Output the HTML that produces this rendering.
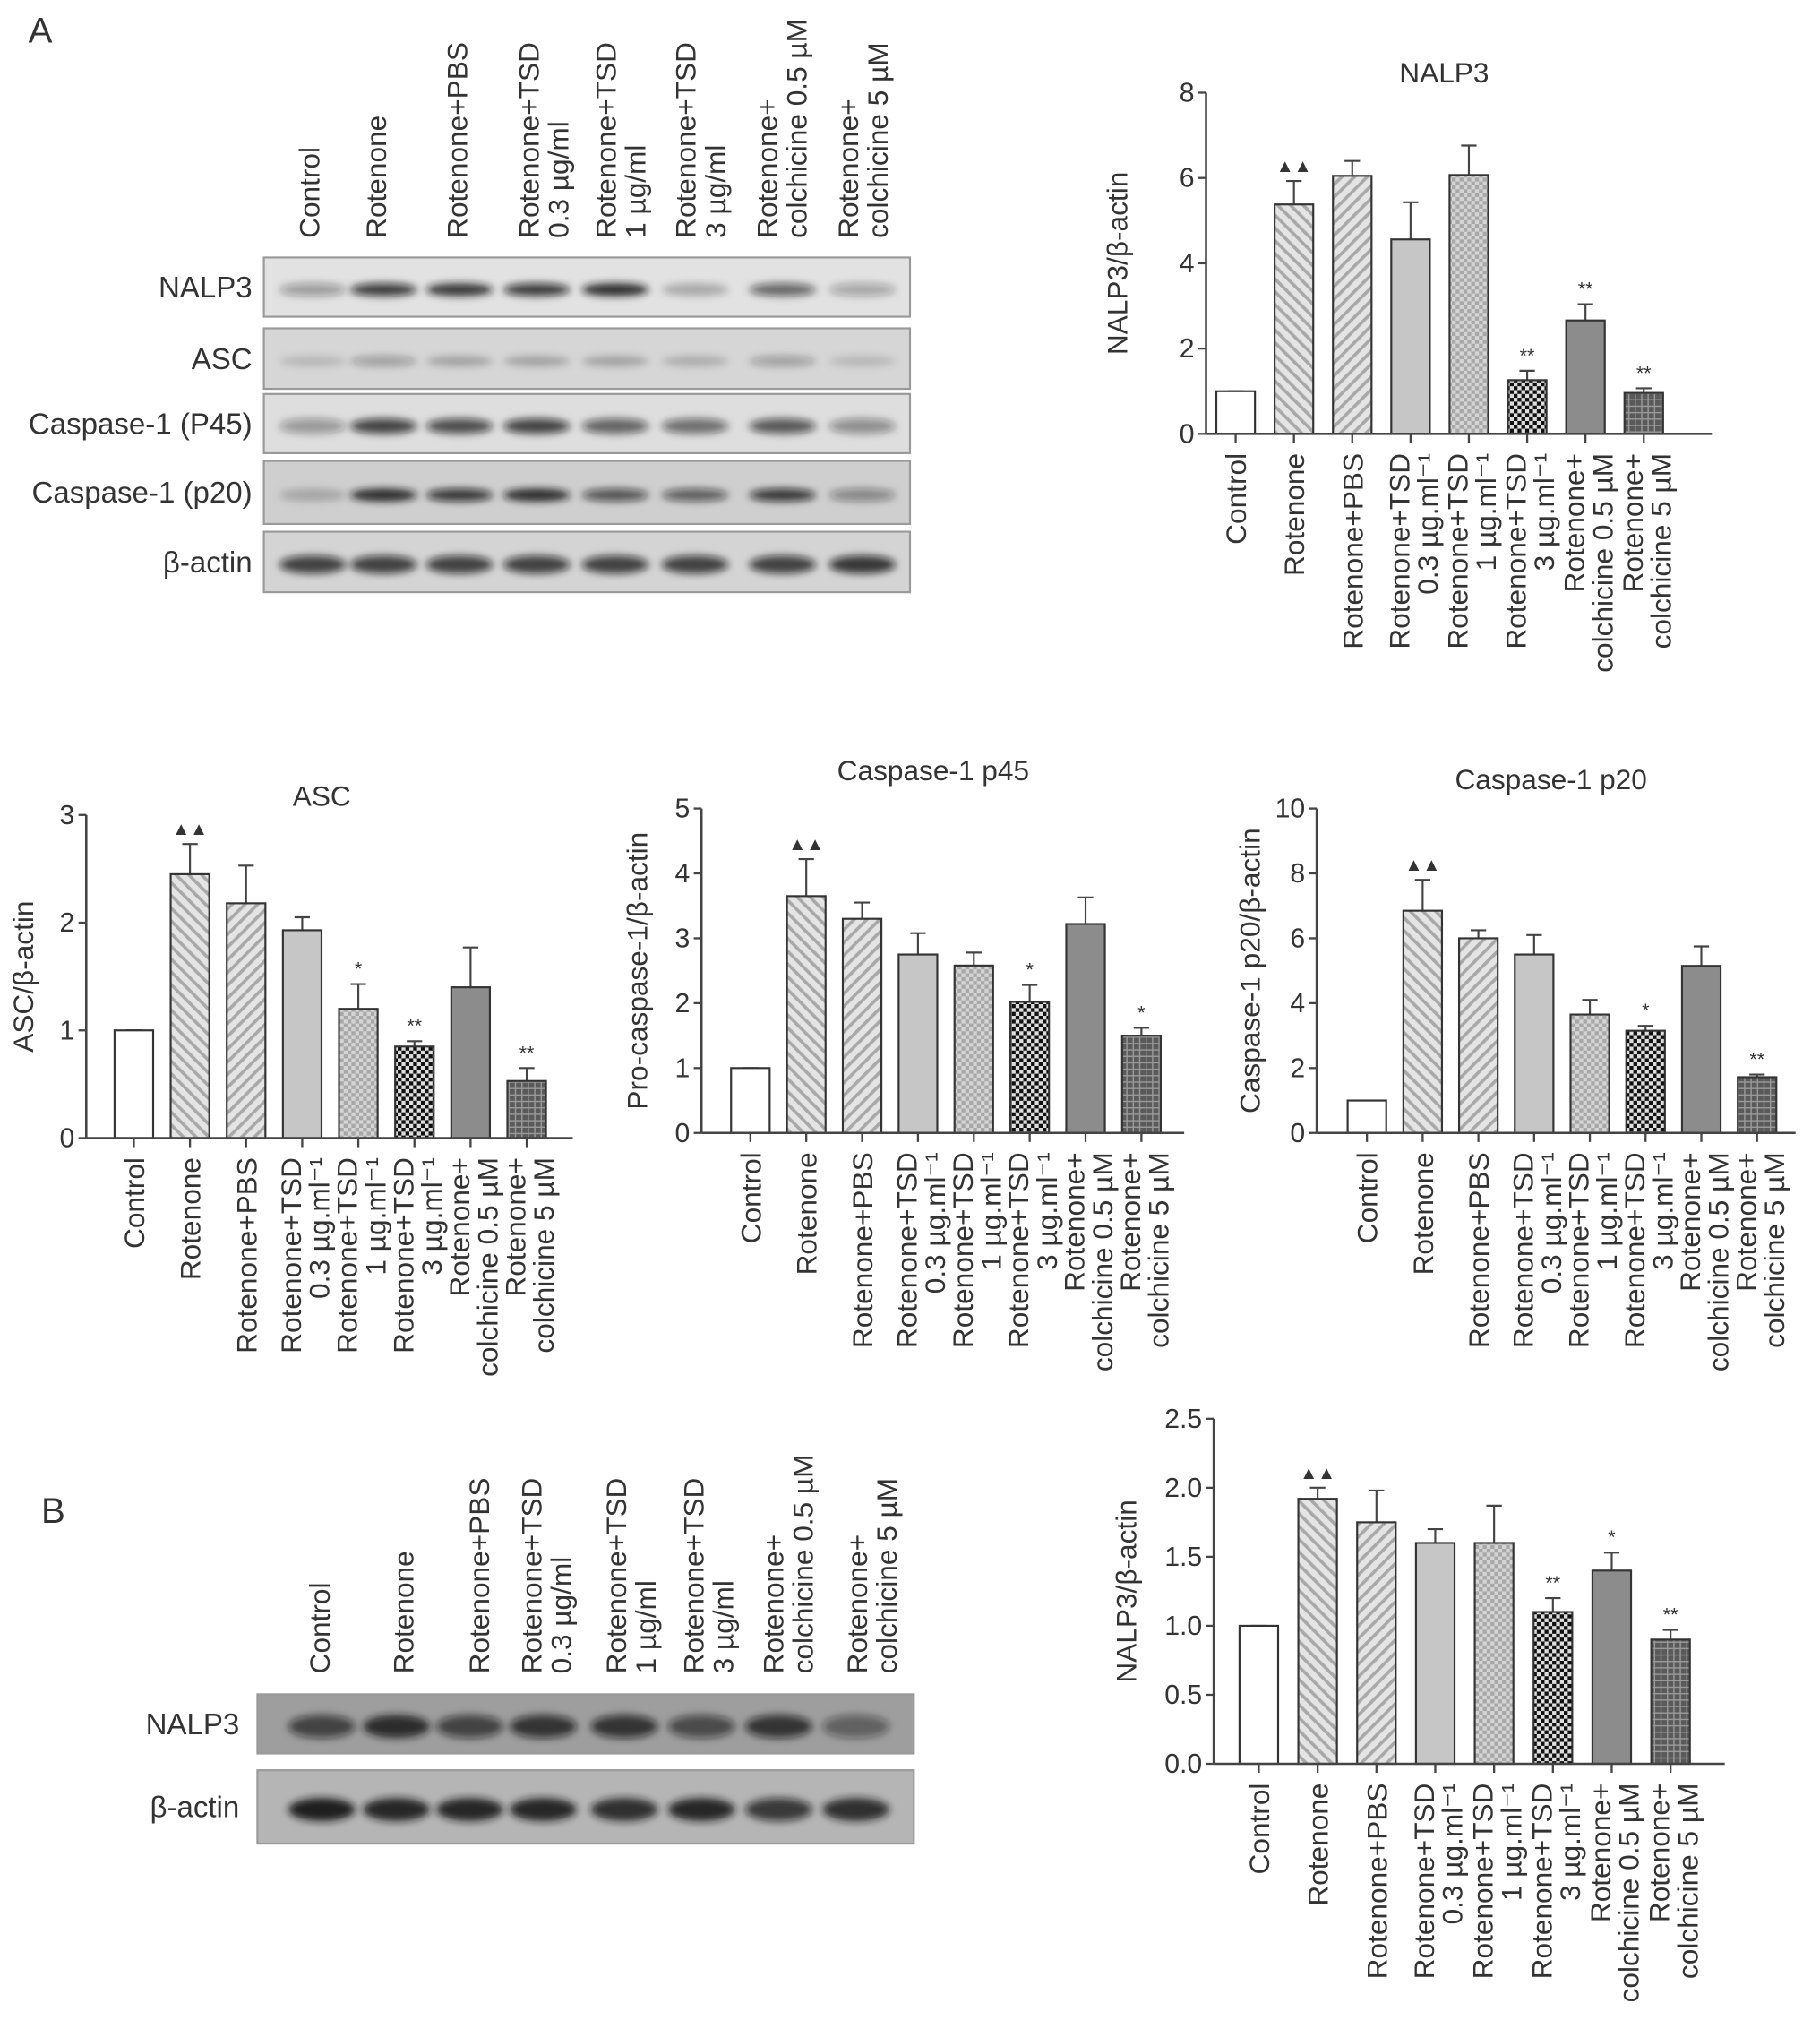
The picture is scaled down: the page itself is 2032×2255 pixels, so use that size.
<!DOCTYPE html>
<html><head><meta charset="utf-8">
<style>
html,body{margin:0;padding:0;background:#fff;}
svg{display:block;font-family:"Liberation Sans",Arial,sans-serif;}
text{fill:#333;}
</style></head>
<body>
<svg id="fig" width="2032" height="2255" viewBox="0 0 1414 1569" preserveAspectRatio="none" xmlns="http://www.w3.org/2000/svg">
<defs>
<pattern id="p-bs" width="7" height="7" patternUnits="userSpaceOnUse" patternTransform="rotate(-45)"><rect width="7" height="7" fill="#e4e4e4"/><rect width="2.5" height="7" fill="#a8a8a8"/></pattern>
<pattern id="p-fs" width="7" height="7" patternUnits="userSpaceOnUse" patternTransform="rotate(45)"><rect width="7" height="7" fill="#e4e4e4"/><rect width="2.5" height="7" fill="#a8a8a8"/></pattern>
<pattern id="p-chk" width="6" height="6" patternUnits="userSpaceOnUse"><rect width="6" height="6" fill="#d4d4d4"/><rect width="3" height="3" fill="#a8a8a8"/><rect x="3" y="3" width="3" height="3" fill="#a8a8a8"/></pattern>
<pattern id="p-dchk" width="6" height="6" patternUnits="userSpaceOnUse"><rect width="6" height="6" fill="#ddd"/><rect width="3" height="3" fill="#111"/><rect x="3" y="3" width="3" height="3" fill="#111"/></pattern>
<pattern id="p-grid" width="5" height="5" patternUnits="userSpaceOnUse"><rect width="5" height="5" fill="#5a5a5a"/><rect width="1" height="5" fill="#999"/><rect width="5" height="1" fill="#999"/></pattern>
<filter id="blur" x="-50%" y="-100%" width="200%" height="300%"><feGaussianBlur stdDeviation="3"/></filter>
</defs>
<text x="22" y="33" font-size="28">A</text>
<text x="32" y="1183" font-size="28">B</text>
<g id="blots"></g>
<g id="charts"></g>
</svg>
<script>
const NS = "http://www.w3.org/2000/svg";
const categories = ["Control","Rotenone","Rotenone+PBS","Rotenone+TSD 0.3","Rotenone+TSD 1","Rotenone+TSD 3","Rotenone+colchicine 0.5","Rotenone+colchicine 5"];
const catLines = [["Control"],["Rotenone"],["Rotenone+PBS"],["Rotenone+TSD","0.3 µg.ml⁻¹"],["Rotenone+TSD","1 µg.ml⁻¹"],["Rotenone+TSD","3 µg.ml⁻¹"],["Rotenone+","colchicine 0.5 µM"],["Rotenone+","colchicine 5 µM"]];
const laneLines = [["Control"],["Rotenone"],["Rotenone+PBS"],["Rotenone+TSD","0.3 µg/ml"],["Rotenone+TSD","1 µg/ml"],["Rotenone+TSD","3 µg/ml"],["Rotenone+","colchicine 0.5 µM"],["Rotenone+","colchicine 5 µM"]];
const fills = ["#fff","url(#p-bs)","url(#p-fs)","#c6c6c6","url(#p-chk)","url(#p-dchk)","#8c8c8c","url(#p-grid)"];

const nalp3Mean = [1, 5.38, 6.05, 4.56, 6.07, 1.26, 2.66, 0.96];
const nalp3Err  = [1, 5.93, 6.40, 5.43, 6.76, 1.48, 3.04, 1.07];
const nalp3Sig  = ["", "▲▲", "", "", "", "**", "**", "**"];
const nalp3Ticks = [0,2,4,6,8];

const ascMean = [1, 2.45, 2.18, 1.93, 1.20, 0.85, 1.40, 0.53];
const ascErr  = [1, 2.73, 2.53, 2.05, 1.43, 0.90, 1.77, 0.65];
const ascSig  = ["", "▲▲", "", "", "*", "**", "", "**"];
const ascTicks = [0,1,2,3];

const p45Mean = [1, 3.65, 3.30, 2.75, 2.58, 2.02, 3.22, 1.50];
const p45Err  = [1, 4.22, 3.55, 3.08, 2.78, 2.28, 3.63, 1.62];
const p45Sig  = ["", "▲▲", "", "", "", "*", "", "*"];
const p45Ticks = [0,1,2,3,4,5];

const p20Mean = [1, 6.85, 6.00, 5.50, 3.65, 3.15, 5.15, 1.72];
const p20Err  = [1, 7.80, 6.25, 6.10, 4.10, 3.30, 5.75, 1.80];
const p20Sig  = ["", "▲▲", "", "", "", "*", "", "**"];
const p20Ticks = [0,2,4,6,8,10];

const bMean = [1, 1.92, 1.75, 1.60, 1.60, 1.10, 1.40, 0.90];
const bErr  = [1, 2.00, 1.98, 1.70, 1.87, 1.20, 1.53, 0.97];
const bSig  = ["", "▲▲", "", "", "", "**", "*", "**"];
const bTicks = [0,0.5,1.0,1.5,2.0,2.5];

const FS = 22;

function mk(tag, attrs, parent){const e=document.createElementNS(NS,tag);for(const k in attrs)e.setAttribute(k,attrs[k]);parent.appendChild(e);return e;}

function chart(cfg){
  const g = mk("g",{},document.getElementById("charts"));
  
  
  const max = cfg.ticks[cfg.ticks.length-1];
  const y = v => cfg.y0 - (v/max)*(cfg.y0-cfg.yTop);
  const x = i => cfg.c0 + i*cfg.sp;
  const bw = 30;
  if(cfg.title){const t=mk("text",{x:cfg.tx,y:cfg.ty,"font-size":FS,"text-anchor":"middle"},g);t.textContent=cfg.title;
    
    }
  const yl=mk("text",{transform:`translate(${cfg.ylx},${(cfg.y0+cfg.yTop)/2}) rotate(-90)`,"font-size":FS,"text-anchor":"middle","dominant-baseline":"middle"},g);
  yl.textContent=cfg.ylabel;
  
  
  cfg.ticks.forEach(v=>{
    mk("line",{x1:cfg.ax-6,x2:cfg.ax,y1:y(v),y2:y(v),stroke:"#444","stroke-width":1.6},g);
    const t=mk("text",{x:cfg.ax-9,y:y(v)+7,"font-size":21,"text-anchor":"end"},g);
    t.textContent=cfg.dec?v.toFixed(1):String(v);
    
    
  });
  cfg.mean.forEach((m,i)=>{
    const cx=x(i);
    mk("line",{x1:cx,x2:cx,y1:y(m),y2:y(cfg.err[i]),stroke:"#444","stroke-width":1.5},g);
    mk("line",{x1:cx-6,x2:cx+6,y1:y(cfg.err[i]),y2:y(cfg.err[i]),stroke:"#444","stroke-width":1.5},g);
    const r=mk("rect",{x:cx-bw/2,y:y(m),width:bw,height:y(0)-y(m),fill:fills[i],stroke:"#333","stroke-width":1.5},g);
    
    
    if(cfg.sig[i]){
      const s=mk("text",{x:cx,y:y(cfg.err[i])-7,"font-size":cfg.sig[i]==="▲▲"?14:15,"text-anchor":"middle",fill:cfg.sig[i]==="▲▲"?"#111":"#555"},g);
      s.textContent=cfg.sig[i];
      
      
    }
    mk("line",{x1:cx,x2:cx,y1:cfg.y0,y2:cfg.y0+7,stroke:"#444","stroke-width":1.6},g);
    const lines=catLines[i];
    lines.forEach((ln,j)=>{
      const bx = cx + 8 + (j - (lines.length-1)/2)*22 + (lines.length>1?2:0);
      const t=mk("text",{transform:`translate(${bx},${cfg.y0+15}) rotate(-90)`,"font-size":FS,"text-anchor":"end"},g);
      t.textContent=ln;
      
      
    });
  });
  mk("line",{x1:cfg.ax,x2:cfg.ax,y1:cfg.yTop,y2:cfg.y0,stroke:"#444","stroke-width":1.8},g);
  mk("line",{x1:cfg.ax,x2:cfg.xEnd,y1:cfg.y0,y2:cfg.y0,stroke:"#444","stroke-width":1.8},g);
}

chart({name:"nalp3-chart-a",mean:nalp3Mean,err:nalp3Err,sig:nalp3Sig,ticks:nalp3Ticks,ax:937,y0:337,yTop:72,xEnd:1330,c0:960,sp:45.3,title:"NALP3",tx:1122,ty:64,ylabel:"NALP3/β-actin",ylx:870});
chart({name:"asc-chart",mean:ascMean,err:ascErr,sig:ascSig,ticks:ascTicks,ax:67,y0:884,yTop:633,xEnd:445,c0:104,sp:43.6,title:"ASC",tx:250,ty:626,ylabel:"ASC/β-actin",ylx:20});
chart({name:"caspase-p45-chart",mean:p45Mean,err:p45Err,sig:p45Sig,ticks:p45Ticks,ax:545,y0:880,yTop:628,xEnd:920,c0:583,sp:43.4,title:"Caspase-1 p45",tx:725,ty:606,ylabel:"Pro-caspase-1/β-actin",ylx:497});
chart({name:"caspase-p20-chart",mean:p20Mean,err:p20Err,sig:p20Sig,ticks:p20Ticks,ax:1023,y0:880,yTop:628,xEnd:1395,c0:1062,sp:43.3,title:"Caspase-1 p20",tx:1205,ty:613,ylabel:"Caspase-1 p20/β-actin",ylx:973});
chart({name:"nalp3-chart-b",mean:bMean,err:bErr,sig:bSig,ticks:bTicks,dec:true,ax:943,y0:1370,yTop:1102,xEnd:1340,c0:978,sp:45.7,title:"",ylabel:"NALP3/β-actin",ylx:877});

const blotsA = [
  {label:"NALP3", y:200, h:46, bg:"#e2e2e2", inten:[0.35,0.8,0.85,0.8,0.9,0.25,0.6,0.3], bh:5},
  {label:"ASC", y:255, h:47, bg:"#d6d6d6", inten:[0.15,0.3,0.25,0.25,0.25,0.2,0.3,0.15], bh:4},
  {label:"Caspase-1 (P45)", y:306, h:46, bg:"#dedede", inten:[0.35,0.75,0.7,0.75,0.6,0.55,0.65,0.4], bh:6},
  {label:"Caspase-1 (p20)", y:358, h:49, bg:"#cfcfcf", inten:[0.2,0.9,0.8,0.9,0.65,0.6,0.8,0.4], bh:5},
  {label:"β-actin", y:413, h:47, bg:"#d4d4d4", inten:[0.75,0.75,0.75,0.75,0.75,0.75,0.75,0.8], bh:7}
];
const lanesA = [243,298,357,417,478,540,608,670];
const blotsB = [
  {label:"NALP3", y:1316, h:46, bg:"#9e9e9e", inten:[0.65,0.85,0.65,0.75,0.75,0.6,0.75,0.45], bh:9},
  {label:"β-actin", y:1375, h:57, bg:"#b5b5b5", inten:[0.95,0.9,0.9,0.9,0.85,0.9,0.75,0.85], bh:9}
];
const lanesB = [250,308,365,422,485,545,605,665];
function blots(rows, lanes, x0, x1, labelX, name){
  const g = mk("g",{},document.getElementById("blots"));
  
  
  rows.forEach(r=>{
    mk("rect",{x:x0,y:r.y,width:x1-x0,height:r.h,fill:r.bg,stroke:"#999","stroke-width":1.5},g);
    lanes.forEach((lx,i)=>{
      const v=r.inten[i];
      mk("ellipse",{cx:lx,cy:r.y+r.h/2+2,rx:26,ry:r.bh,fill:`rgba(20,20,20,${v})`,filter:"url(#blur)"},g);
    });
    const t=mk("text",{x:labelX,y:r.y+r.h/2+8,"font-size":23,"text-anchor":"end"},g);
    t.textContent=r.label;
    
    
  });
}
blots(blotsA, lanesA, 205, 707, 196, "western-blot-a");
blots(blotsB, lanesB, 200, 710, 186, "western-blot-b");

function laneLabels(centers, bottom, name){
  const g = mk("g",{},document.getElementById("blots"));
  
  
  centers.forEach((cx,i)=>{
    const lines=laneLines[i];
    lines.forEach((ln,j)=>{
      const bx = cx + 8 + (j-(lines.length-1)/2)*23;
      const t=mk("text",{transform:`translate(${bx},${bottom}) rotate(-90)`,"font-size":FS,"text-anchor":"start"},g);
      t.textContent=ln;
      
      
    });
  });
}
laneLabels([240,292,355,422,482,544,607,670], 185, "lane-labels-a");
laneLabels([248,313,372,424,490,550,612,677], 1300, "lane-labels-b");
</script>
</body></html>
